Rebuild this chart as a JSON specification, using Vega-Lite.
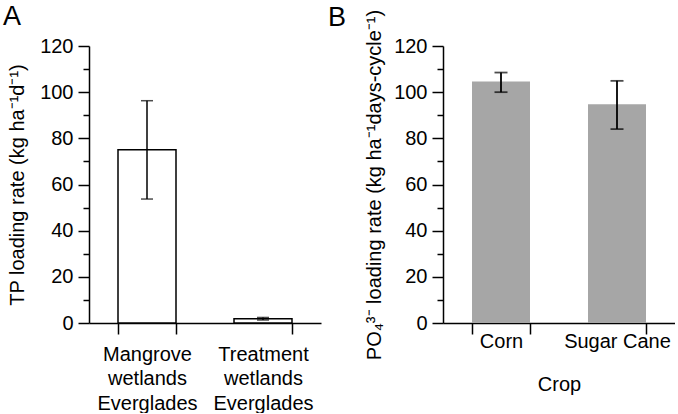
{
  "$schema": "https://vega.github.io/schema/vega-lite/v6.json",
  "padding": {"left": 3, "top": 3, "right": 0, "bottom": 0},
  "spacing": 122,
  "bounds": "flush",
  "config": {
    "font": "Liberation Sans",
    "view": {"stroke": null},
    "axis": {
      "domainColor": "black", "domainWidth": 1.5, "tickColor": "black", "tickWidth": 1.5,
      "labelColor": "black", "titleColor": "black", "labelFontSize": 20, "titleFontSize": 20,
      "titleFontWeight": "normal", "grid": false, "labelFont": "Liberation Sans", "titleFont": "Liberation Sans"
    },
    "title": {"font": "Liberation Sans", "fontSize": 27, "fontWeight": "normal", "color": "black"}
  },
  "hconcat": [
    {
      "width": 232, "height": 277,
      "title": {"text": "A", "anchor": "start", "frame": "group", "dx": -86, "offset": 5},
      "data": {"values": [
        {"site": "Mangrove wetlands Everglades", "rate": 75.1, "lo": 53.7, "hi": 96.3},
        {"site": "Treatment wetlands Everglades", "rate": 1.8, "lo": 1.3, "hi": 2.4}
      ]},
      "encoding": {
        "x": {"field": "site", "type": "nominal", "sort": null,
          "scale": {"paddingInner": 0.5, "paddingOuter": 0.25},
          "axis": {"title": null, "labelAngle": 0, "labelExpr": "split(datum.label, ' ')", "labelLineHeight": 24.5,
            "tickBand": "extent", "tickSize": 11, "labelPadding": 10, "labelLimit": 0}}
      },
      "resolve": {"axis": {"y": "independent"}},
      "layer": [
        {"mark": {"type": "bar", "fill": "white", "stroke": "black", "strokeWidth": 1.5},
          "encoding": {"y": {"field": "rate", "type": "quantitative",
            "scale": {"domain": [0, 120], "nice": false},
            "axis": {"title": "TP loading rate (kg ha⁻¹d⁻¹)", "orient": "left", "values": [0,20,40,60,80,100,120],
              "tickSize": 11, "labelPadding": 5, "titlePadding": 12}}}},
        {"mark": {"type": "errorbar", "ticks": {"size": 12, "thickness": 1.5, "color": "black"}, "rule": {"strokeWidth": 1.5, "color": "black"}},
          "encoding": {"y": {"field": "lo", "type": "quantitative",
            "axis": {"title": null, "orient": "left", "values": [10,30,50,70,90,110], "labels": false, "domain": false, "tickSize": 6}},
            "y2": {"field": "hi"}}}
      ]
    },
    {
      "width": 232, "height": 277,
      "title": {"text": "B", "anchor": "start", "frame": "group", "dx": -115, "offset": -23},
      "data": {"values": [
        {"crop": "Corn", "rate": 104.6, "lo": 100.0, "hi": 108.5},
        {"crop": "Sugar Cane", "rate": 94.8, "lo": 84.0, "hi": 104.9}
      ]},
      "encoding": {
        "x": {"field": "crop", "type": "nominal", "sort": null,
          "scale": {"paddingInner": 0.5, "paddingOuter": 0.25},
          "axis": {"title": "Crop", "labelAngle": 0, "tickBand": "extent", "tickSize": 11, "labelPadding": -3, "titlePadding": 23, "labelLimit": 0}}
      },
      "resolve": {"axis": {"y": "independent"}},
      "layer": [
        {"mark": {"type": "bar", "fill": "#a6a6a6"},
          "encoding": {"y": {"field": "rate", "type": "quantitative",
            "scale": {"domain": [0, 120], "nice": false},
            "axis": {"title": "PO₄³⁻ loading rate (kg ha⁻¹days-cycle⁻¹)", "orient": "left", "values": [0,20,40,60,80,100,120],
              "tickSize": 11, "labelPadding": 5, "titlePadding": 9}}}},
        {"mark": {"type": "errorbar", "ticks": {"size": 13, "thickness": 1.8, "color": "black"}, "rule": {"strokeWidth": 1.8, "color": "black"}},
          "encoding": {"y": {"field": "lo", "type": "quantitative",
            "axis": {"title": null, "orient": "left", "values": [10,30,50,70,90,110], "labels": false, "domain": false, "tickSize": 6}},
            "y2": {"field": "hi"}}}
      ]
    }
  ]
}
